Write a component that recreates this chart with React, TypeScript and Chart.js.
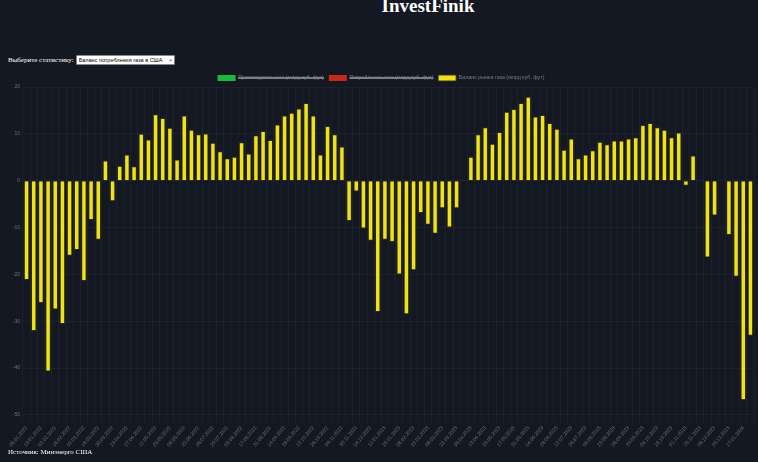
import React, { useEffect, useRef } from "react";
import { Chart, registerables } from "chart.js";

Chart.register(...registerables);

const dates: string[] = [
  "05.01.2022", "12.01.2022", "19.01.2022", "26.01.2022", "02.02.2022", "09.02.2022", "16.02.2022", "23.02.2022",
  "02.03.2022", "09.03.2022", "16.03.2022", "23.03.2022", "30.03.2022", "06.04.2022", "13.04.2022", "20.04.2022",
  "27.04.2022", "04.05.2022", "11.05.2022", "18.05.2022", "25.05.2022", "01.06.2022", "08.06.2022", "15.06.2022",
  "22.06.2022", "29.06.2022", "06.07.2022", "13.07.2022", "20.07.2022", "27.07.2022", "03.08.2022", "10.08.2022",
  "17.08.2022", "24.08.2022", "31.08.2022", "07.09.2022", "14.09.2022", "21.09.2022", "28.09.2022", "05.10.2022",
  "12.10.2022", "19.10.2022", "26.10.2022", "02.11.2022", "09.11.2022", "16.11.2022", "30.11.2022", "07.12.2022",
  "14.12.2022", "28.12.2022",
  "11.01.2023", "18.01.2023", "25.01.2023", "01.02.2023", "08.02.2023", "15.02.2023", "22.02.2023", "01.03.2023",
  "08.03.2023", "15.03.2023", "22.03.2023", "29.03.2023", "05.04.2023", "12.04.2023", "19.04.2023", "26.04.2023",
  "03.05.2023", "10.05.2023", "17.05.2023", "24.05.2023", "31.05.2023", "07.06.2023", "14.06.2023", "21.06.2023",
  "28.06.2023", "05.07.2023", "12.07.2023", "19.07.2023", "26.07.2023", "02.08.2023", "09.08.2023", "16.08.2023",
  "23.08.2023", "30.08.2023", "06.09.2023", "13.09.2023", "20.09.2023", "27.09.2023", "04.10.2023", "11.10.2023",
  "18.10.2023", "25.10.2023", "01.11.2023", "08.11.2023", "15.11.2023", "22.11.2023", "06.12.2023", "13.12.2023",
  "20.12.2023", "03.01.2024", "17.01.2024", "24.01.2024",
];

const balance: number[] = [
  -21.2, -32.1, -26.1, -40.7, -27.5, -30.6, -16.0, -14.8, -21.4, -8.4,
  -12.6, 4.3, -4.4, 3.2, 5.6, 3.1, 10.0, 8.8, 14.2, 13.4,
  11.3, 4.5, 13.9, 10.9, 9.9, 10.1, 8.1, 6.3, 4.8, 5.1,
  8.2, 5.8, 9.7, 10.6, 8.7, 12.0, 13.9, 14.5, 15.4, 16.6,
  13.9, 5.6, 11.7, 9.9, 7.3, -8.6, -2.3, -10.2, -12.8, -28.0,
  -12.6, -13.1, -20.0, -28.5, -19.1, -6.9, -9.4, -11.3, -5.9, -10.0,
  -5.9, 0.2, 5.1, 9.9, 11.4, 7.9, 10.4, 14.7, 15.3, 16.6,
  17.9, 13.7, 14.0, 12.3, 11.1, 6.6, 9.0, 4.8, 5.6, 6.5,
  8.3, 7.8, 8.6, 8.6, 9.0, 9.3, 11.9, 12.3, 11.4, 10.9,
  9.3, 10.3, -1.1, 5.4, -0.1, -16.4, -7.4, -0.1, -11.6, -20.5,
  -46.8, -33.1,
];

const production: number[] = [];
const consumption: number[] = [];

const seriesNames: string[] = [
  "Производство газа (млрд куб. фут)",
  "Потребление газа (млрд куб. фут)",
  "Баланс рынка газа (млрд куб. фут)",
];

const yMin = -50;
const yMax = 20;

const legendShrink = {
  id: "legendShrink",
  beforeInit(chart: any) {
    const legend = chart.legend;
    if (!legend) return;
    const orig = legend.fit;
    legend.fit = function () {
      orig.call(legend);
      this.height -= 4;
    };
  },
};

export default function App() {
  const ref = useRef<HTMLCanvasElement | null>(null);

  useEffect(() => {
    document.body.style.background = "#141822";
    document.body.style.margin = "0";
    document.body.style.overflow = "hidden";
    const ctx = ref.current!.getContext("2d")!;
    const chart = new Chart(ctx, {
      type: "bar",
      plugins: [legendShrink],
      data: {
        labels: dates,
        datasets: [
          { label: seriesNames[0], data: production, backgroundColor: "#1cb83c", borderColor: "#1cb83c", hidden: true },
          { label: seriesNames[1], data: consumption, backgroundColor: "#c42a1c", borderColor: "#c42a1c", hidden: true },
          {
            label: seriesNames[2],
            data: balance,
            backgroundColor: "#efe21c",
            borderColor: "rgba(50,48,12,0.9)",
            borderWidth: 1,
            barPercentage: 0.85,
            categoryPercentage: 0.9,
          },
        ],
      },
      options: {
        animation: false,
        responsive: true,
        maintainAspectRatio: false,
        layout: { padding: { left: 0, right: 4, top: 0, bottom: 0 } },
        plugins: {
          legend: {
            position: "top",
            labels: {
              color: "#7a7e85",
              boxWidth: 18,
              boxHeight: 6,
              padding: 5,
              font: { size: 5.3, family: "Liberation Sans" },
            },
          },
          tooltip: { enabled: false },
        },
        scales: {
          x: {
            grid: { color: "rgba(255,255,255,0.035)" },
            border: { display: false },
            ticks: {
              color: "#6f737a",
              font: { size: 5, family: "Liberation Sans" },
              autoSkip: false,
              minRotation: 50,
              maxRotation: 50,
              padding: 2,
              callback: (_v: any, i: number) => (i % 2 === 0 ? dates[i] : ""),
            },
          },
          y: {
            min: yMin,
            max: yMax,
            grid: { color: "rgba(255,255,255,0.035)", drawTicks: false },
            border: { display: false },
            afterFit: (scale: any) => {
              scale.width = 15;
            },
            ticks: {
              stepSize: 10,
              color: "#6f737a",
              font: { size: 5, family: "Liberation Sans" },
              padding: 3,
            },
          },
        },
      },
    });
    return () => chart.destroy();
  }, []);

  return (
    <div style={{ position: "relative", width: 758, height: 462, background: "#141822" }}>
      <div
        style={{
          position: "absolute",
          left: 0,
          width: 856,
          top: -4,
          textAlign: "center",
          color: "#ffffff",
          fontFamily: "Liberation Serif",
          fontWeight: "bold",
          fontSize: 19,
          lineHeight: "19px",
          whiteSpace: "nowrap",
        }}
      >
        InvestFinik
      </div>
      <div
        style={{
          position: "absolute",
          left: 8,
          top: 55,
          height: 10,
          color: "#ffffff",
          fontFamily: "Liberation Serif",
          fontSize: 7,
          display: "flex",
          alignItems: "center",
          gap: 2,
        }}
      >
        <span>Выберите статистику:</span>
        <div style={{ position: "relative", width: 99, height: 10 }}>
          <select
            defaultValue="balance"
            style={{
              appearance: "none",
              WebkitAppearance: "none",
              fontSize: 5.5,
              fontFamily: "Liberation Sans",
              width: 99,
              height: 10,
              padding: "0 0 0 2px",
              margin: 0,
              border: "1px solid #888",
              borderRadius: 1,
              background: "#fff",
              color: "#000",
              boxSizing: "border-box",
            }}
          >
            <option value="balance">Баланс потребления газа в США</option>
          </select>
          <span
            style={{
              position: "absolute",
              right: 2,
              top: 0,
              fontSize: 6,
              lineHeight: "9px",
              color: "#000",
              fontFamily: "Liberation Sans",
              pointerEvents: "none",
            }}
          >
            ⌄
          </span>
        </div>
      </div>
      <div style={{ position: "absolute", left: 8, top: 70, width: 750, height: 380 }}>
        <canvas ref={ref} />
      </div>
      <div
        style={{
          position: "absolute",
          left: 8,
          top: 448,
          color: "#ffffff",
          fontFamily: "Liberation Serif",
          fontSize: 7,
        }}
      >
        Источник: Минэнерго США
      </div>
    </div>
  );
}
